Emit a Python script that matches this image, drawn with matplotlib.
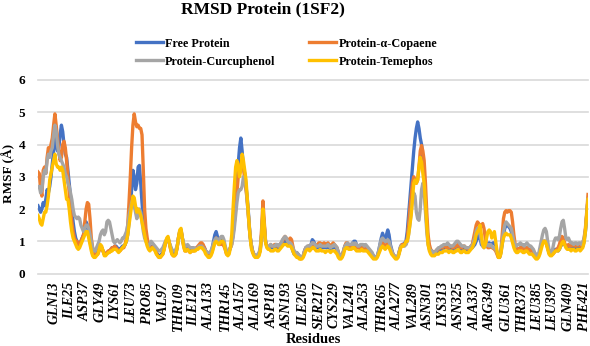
#%% imports
import numpy as np
import matplotlib
matplotlib.use('Agg')
import matplotlib.pyplot as plt

#%% data (RMSF per residue, residues 1..424)
free_protein = [
    2.1, 2.0, 1.9, 2.0, 2.2, 2.1, 2.3, 2.6, 2.5, 2.7,
    3.0, 3.4, 3.8, 4.2, 4.0, 3.8, 3.9, 4.3, 4.6, 4.4,
    4.0, 3.7, 3.6, 3.2, 2.8, 2.4, 2.0, 1.6, 1.3, 1.1,
    1.0, 0.9, 0.9, 1.0, 1.1, 1.2, 1.4, 1.6, 1.5, 1.3,
    1.0, 0.8, 0.6, 0.55, 0.55, 0.6, 0.7, 0.8, 0.85, 0.8,
    0.7, 0.6, 0.6, 0.65, 0.65, 0.7, 0.75, 0.8, 0.8, 0.85,
    0.85, 0.8, 0.75, 0.75, 0.8, 0.85, 0.85, 0.9, 1.0, 1.2,
    1.6, 2.0, 2.6, 3.2, 3.0, 2.6, 2.8, 3.3, 3.35, 2.8,
    2.2, 1.7, 1.4, 1.1, 0.95, 0.85, 0.8, 0.8, 0.85, 0.85,
    0.75, 0.65, 0.6, 0.55, 0.55, 0.6, 0.65, 0.8, 0.95, 1.05,
    1.1, 0.95, 0.8, 0.65, 0.6, 0.6, 0.65, 0.8, 1.1, 1.3,
    1.35, 1.1, 0.9, 0.8, 0.8, 0.85, 0.8, 0.75, 0.8, 0.8,
    0.75, 0.75, 0.8, 0.8, 0.85, 0.85, 0.9, 0.85, 0.8, 0.7,
    0.65, 0.6, 0.6, 0.65, 0.8, 1.0, 1.2, 1.3, 1.15, 1.0,
    1.05, 1.1, 1.0, 0.95, 0.8, 0.65, 0.6, 0.7, 0.8, 1.0,
    1.2, 1.6, 2.2, 2.8, 3.4, 3.9, 4.2, 3.8, 3.3, 3.1,
    2.7, 2.3, 1.8, 1.2, 0.9, 0.7, 0.6, 0.55, 0.5, 0.55,
    0.6, 0.75, 1.2, 1.9, 1.5, 1.0, 0.85, 0.8, 0.8, 0.85,
    0.8, 0.8, 0.85, 0.85, 0.8, 0.8, 0.85, 0.9, 0.95, 0.95,
    1.0, 0.95, 0.9, 0.95, 0.9, 0.85, 0.7, 0.6, 0.6, 0.65,
    0.6, 0.55, 0.5, 0.5, 0.55, 0.7, 0.8, 0.8, 0.85, 0.8,
    0.9, 1.05, 1.0, 0.9, 0.85, 0.8, 0.8, 0.85, 0.8, 0.8,
    0.85, 0.8, 0.8, 0.85, 0.8, 0.75, 0.8, 0.8, 0.85, 0.8,
    0.75, 0.65, 0.55, 0.5, 0.55, 0.7, 0.85, 0.9, 0.9, 0.85,
    0.85, 0.9, 0.95, 1.0, 1.0, 0.9, 0.85, 0.8, 0.8, 0.85,
    0.8, 0.8, 0.85, 0.8, 0.75, 0.7, 0.65, 0.6, 0.55, 0.5,
    0.5, 0.55, 0.7, 0.9, 1.1, 1.25, 1.1, 1.0, 1.2, 1.35,
    1.2, 0.9, 0.75, 0.6, 0.55, 0.5, 0.5, 0.55, 0.7, 0.85,
    0.9, 0.9, 0.95, 1.0, 1.3, 1.8, 2.3, 2.8, 3.3, 3.8,
    4.2, 4.5, 4.7, 4.5, 4.2, 4.0, 3.5, 3.0, 2.2, 1.5,
    1.0, 0.8, 0.7, 0.65, 0.6, 0.6, 0.65, 0.7, 0.7, 0.75,
    0.8, 0.75, 0.8, 0.8, 0.85, 0.8, 0.75, 0.8, 0.8, 0.75,
    0.75, 0.8, 0.85, 0.85, 0.8, 0.75, 0.75, 0.8, 0.8, 0.75,
    0.7, 0.7, 0.75, 0.8, 0.8, 0.85, 0.9, 1.0, 1.1, 1.2,
    1.1, 0.9, 0.85, 0.9, 0.95, 0.9, 0.9, 0.95, 0.9, 0.9,
    0.95, 0.95, 0.85, 0.65, 0.55, 0.5, 0.65, 0.9, 1.2, 1.4,
    1.5, 1.5, 1.45, 1.4, 1.3, 1.1, 0.9, 0.8, 0.75, 0.7,
    0.75, 0.8, 0.8, 0.75, 0.75, 0.8, 0.8, 0.75, 0.7, 0.7,
    0.75, 0.7, 0.6, 0.55, 0.5, 0.55, 0.7, 0.85, 0.95, 1.0,
    1.0, 0.95, 0.8, 0.65, 0.6, 0.6, 0.65, 0.7, 0.75, 0.75,
    0.7, 0.75, 0.85, 0.9, 0.95, 0.9, 0.85, 0.8, 0.8, 0.75,
    0.75, 0.8, 0.8, 0.75, 0.75, 0.8, 0.8, 0.75, 0.8, 0.85,
    1.0, 1.3, 1.8, 2.3]

copaene = [
    3.15, 3.1, 2.6, 2.4, 3.2, 3.3, 3.1, 3.6, 3.9, 3.8,
    4.0, 4.2, 4.6, 4.95, 4.6, 4.2, 3.8, 3.5, 3.6, 4.0,
    4.1, 3.9, 3.5, 3.0, 2.5, 2.0, 1.6, 1.3, 1.1, 1.0,
    1.0, 0.9, 0.9, 1.0, 1.1, 1.2, 1.6, 2.0, 2.2, 2.15,
    1.7, 1.1, 0.8, 0.6, 0.55, 0.6, 0.6, 0.7, 0.8, 0.8,
    0.7, 0.6, 0.6, 0.65, 0.7, 0.7, 0.75, 0.8, 0.8, 0.85,
    0.8, 0.75, 0.7, 0.7, 0.75, 0.8, 0.8, 0.9, 1.1, 1.5,
    2.2, 3.0, 3.9, 4.6, 4.95, 4.7, 4.55, 4.6, 4.5, 4.5,
    4.3, 3.2, 2.0, 1.4, 1.1, 0.9, 0.85, 0.8, 0.8, 0.85,
    0.75, 0.65, 0.55, 0.5, 0.5, 0.55, 0.6, 0.75, 0.95, 1.05,
    1.1, 0.95, 0.75, 0.6, 0.55, 0.55, 0.6, 0.8, 1.1, 1.3,
    1.35, 1.1, 0.85, 0.7, 0.7, 0.75, 0.7, 0.65, 0.7, 0.7,
    0.7, 0.75, 0.8, 0.85, 0.9, 0.95, 0.95, 0.9, 0.8, 0.7,
    0.65, 0.6, 0.6, 0.6, 0.7, 0.85, 1.0, 1.1, 1.0, 0.9,
    0.9, 0.95, 0.9, 0.85, 0.75, 0.6, 0.6, 0.7, 0.8, 0.9,
    1.2, 1.6, 2.0, 2.5, 3.0, 3.3, 3.4, 3.5, 3.3, 2.9,
    2.6, 2.2, 1.7, 1.2, 0.9, 0.7, 0.6, 0.55, 0.5, 0.55,
    0.6, 0.8, 1.4, 2.25, 1.6, 1.0, 0.85, 0.8, 0.85, 0.9,
    0.85, 0.85, 0.9, 0.9, 0.85, 0.85, 0.9, 0.95, 1.0, 1.1,
    1.15, 1.1, 1.0, 1.05, 1.1, 1.05, 0.85, 0.65, 0.6, 0.6,
    0.55, 0.5, 0.45, 0.5, 0.55, 0.7, 0.8, 0.8, 0.85, 0.8,
    0.85, 0.95, 0.9, 0.85, 0.85, 0.9, 0.95, 0.95, 0.9, 0.9,
    0.95, 0.9, 0.9, 0.95, 0.9, 0.85, 0.9, 0.95, 0.9, 0.85,
    0.8, 0.65, 0.55, 0.5, 0.55, 0.7, 0.85, 0.95, 0.95, 0.9,
    0.85, 0.85, 0.9, 0.85, 0.85, 0.8, 0.8, 0.8, 0.75, 0.8,
    0.8, 0.75, 0.8, 0.75, 0.7, 0.7, 0.65, 0.6, 0.55, 0.5,
    0.5, 0.55, 0.65, 0.8, 0.9, 0.95, 0.9, 0.85, 0.9, 0.95,
    0.9, 0.8, 0.7, 0.6, 0.55, 0.5, 0.5, 0.55, 0.7, 0.85,
    0.9, 0.9, 0.9, 0.9, 1.1, 1.5, 2.0, 2.4, 2.8, 3.0,
    2.9, 2.8, 2.9, 3.3, 3.8, 3.97, 3.8, 3.5, 2.8, 1.9,
    1.2, 0.9, 0.75, 0.7, 0.65, 0.65, 0.7, 0.75, 0.75, 0.8,
    0.8, 0.8, 0.85, 0.85, 0.8, 0.8, 0.8, 0.85, 0.85, 0.8,
    0.8, 0.85, 0.85, 0.9, 0.85, 0.8, 0.8, 0.85, 0.85, 0.8,
    0.8, 0.75, 0.8, 0.85, 0.9, 1.1, 1.3, 1.5, 1.6, 1.55,
    1.4, 1.5, 1.55, 1.4, 1.1, 0.9, 0.8, 0.8, 0.85, 0.8,
    0.8, 0.75, 0.7, 0.6, 0.5, 0.5, 0.7, 1.2, 1.7, 1.9,
    1.95, 1.9, 1.95, 1.95, 1.9, 1.6, 1.2, 0.9, 0.8, 0.75,
    0.75, 0.8, 0.8, 0.75, 0.75, 0.8, 0.8, 0.75, 0.75, 0.7,
    0.7, 0.7, 0.6, 0.55, 0.5, 0.55, 0.7, 0.85, 0.95, 1.0,
    1.0, 0.95, 0.8, 0.65, 0.6, 0.6, 0.6, 0.65, 0.7, 0.75,
    0.8, 0.9, 1.05, 1.15, 1.1, 0.95, 0.85, 0.85, 0.9, 0.85,
    0.85, 0.9, 0.9, 0.85, 0.85, 0.9, 0.9, 0.85, 0.9, 0.95,
    1.1, 1.4, 1.9, 2.45]

curcuphenol = [
    2.7, 2.7, 2.5, 2.6, 3.0, 3.2, 3.1, 3.5, 3.7, 3.6,
    3.8, 3.9, 4.3, 4.6, 4.4, 4.0, 3.7, 3.6, 3.5, 3.4,
    3.3, 3.1, 3.0, 2.8, 2.7, 2.5, 2.3, 2.0, 1.8, 1.75,
    1.7, 1.75, 1.7, 1.5, 1.4, 1.3, 1.4, 1.5, 1.5, 1.4,
    1.2, 1.0, 0.8, 0.7, 0.7, 0.8, 0.9, 1.0, 1.2, 1.3,
    1.35, 1.2, 1.3, 1.6, 1.65, 1.6, 1.4, 1.2, 1.0, 0.95,
    1.0, 1.05, 1.0, 0.95, 1.0, 1.1, 1.1, 1.2, 1.3, 1.5,
    1.8, 2.0, 2.2, 2.3, 2.1, 1.9, 1.7, 1.8, 2.0, 1.9,
    1.6, 1.3, 1.1, 1.0, 0.9, 0.85, 0.9, 1.0, 0.95, 0.9,
    0.85, 0.8, 0.75, 0.7, 0.7, 0.75, 0.8, 0.9, 1.0, 1.05,
    1.05, 0.95, 0.85, 0.75, 0.7, 0.7, 0.75, 0.85, 1.05, 1.25,
    1.3, 1.1, 0.95, 0.85, 0.85, 0.9, 0.85, 0.8, 0.8, 0.8,
    0.8, 0.75, 0.75, 0.8, 0.85, 0.85, 0.85, 0.8, 0.75, 0.7,
    0.65, 0.65, 0.65, 0.7, 0.8, 0.95, 1.05, 1.1, 1.05, 1.0,
    1.1, 1.15, 1.15, 1.05, 0.85, 0.7, 0.65, 0.7, 0.8, 0.9,
    1.1, 1.4, 1.8, 2.2, 2.5, 2.6, 2.6, 2.7, 3.0, 2.9,
    2.7, 2.2, 1.7, 1.2, 0.9, 0.7, 0.6, 0.55, 0.55, 0.6,
    0.65, 0.8, 1.2, 1.8, 1.4, 1.0, 0.85, 0.8, 0.85, 0.9,
    0.85, 0.85, 0.85, 0.9, 0.9, 0.85, 0.9, 0.95, 1.05, 1.1,
    1.15, 1.1, 1.0, 0.95, 0.95, 0.9, 0.8, 0.7, 0.65, 0.65,
    0.6, 0.55, 0.5, 0.5, 0.55, 0.7, 0.8, 0.85, 0.85, 0.85,
    0.9, 0.95, 0.95, 0.9, 0.85, 0.85, 0.85, 0.9, 0.85, 0.85,
    0.85, 0.85, 0.85, 0.9, 0.85, 0.8, 0.85, 0.85, 0.9, 0.85,
    0.8, 0.65, 0.55, 0.5, 0.55, 0.7, 0.85, 0.9, 0.95, 0.9,
    0.9, 0.9, 0.95, 0.9, 0.95, 0.9, 0.85, 0.85, 0.9, 0.9,
    0.9, 0.85, 0.9, 0.85, 0.8, 0.75, 0.7, 0.65, 0.55, 0.5,
    0.5, 0.55, 0.7, 0.9, 1.05, 1.1, 1.05, 1.0, 1.0, 1.05,
    1.0, 0.85, 0.7, 0.6, 0.55, 0.5, 0.5, 0.55, 0.7, 0.85,
    0.85, 0.85, 0.85, 0.9, 1.0, 1.2, 1.5, 1.9, 2.3, 2.5,
    2.4, 1.9, 1.7, 1.65, 2.0, 2.6, 2.8, 2.5, 1.9, 1.3,
    0.9, 0.75, 0.7, 0.7, 0.65, 0.65, 0.7, 0.75, 0.8, 0.8,
    0.85, 0.85, 0.9, 0.9, 0.9, 0.95, 0.9, 0.85, 0.85, 0.85,
    0.9, 0.95, 1.0, 1.0, 0.95, 0.9, 0.85, 0.85, 0.85, 0.8,
    0.8, 0.8, 0.8, 0.85, 0.85, 1.0, 1.1, 1.3, 1.4, 1.3,
    1.2, 1.0, 0.85, 0.8, 0.85, 0.9, 0.9, 0.85, 0.9, 0.85,
    0.8, 0.8, 0.75, 0.65, 0.6, 0.55, 0.7, 1.0, 1.3, 1.5,
    1.6, 1.55, 1.5, 1.45, 1.4, 1.2, 1.0, 0.85, 0.85, 0.9,
    0.9, 0.95, 0.9, 0.9, 0.85, 0.9, 0.95, 0.9, 0.85, 0.85,
    0.8, 0.75, 0.65, 0.6, 0.55, 0.6, 0.8, 1.0, 1.2, 1.35,
    1.4, 1.3, 1.0, 0.75, 0.65, 0.65, 0.8, 1.0, 1.1, 1.1,
    1.05, 1.15, 1.4, 1.6, 1.65, 1.4, 1.1, 1.05, 1.1, 1.0,
    0.95, 0.95, 0.9, 0.95, 0.95, 0.9, 0.95, 0.95, 0.9, 0.95,
    1.1, 1.3, 1.8, 2.3]

temephos = [
    1.8, 1.7, 1.55, 1.5, 1.7, 1.9, 1.9, 2.1, 2.4, 2.9,
    3.1, 3.3, 3.5, 3.7, 3.4, 3.3, 3.3, 3.2, 3.3, 3.2,
    2.9, 2.6, 2.3, 2.3, 2.0, 1.6, 1.3, 1.1, 1.0, 0.9,
    0.8, 0.75, 0.8, 0.9, 1.0, 1.1, 1.2, 1.3, 1.3, 1.1,
    0.9, 0.7, 0.55, 0.5, 0.5, 0.55, 0.6, 0.75, 0.9, 0.85,
    0.7, 0.55, 0.55, 0.6, 0.65, 0.65, 0.7, 0.7, 0.75, 0.75,
    0.75, 0.7, 0.65, 0.7, 0.75, 0.8, 0.85, 0.9, 1.0, 1.2,
    1.5, 1.8, 2.1, 2.4, 2.35, 2.1, 1.9, 2.0, 1.9, 1.8,
    1.6, 1.4, 1.2, 1.0, 0.85, 0.75, 0.7, 0.75, 0.8, 0.75,
    0.7, 0.6, 0.55, 0.5, 0.5, 0.55, 0.6, 0.75, 0.95, 1.1,
    1.15, 0.95, 0.75, 0.6, 0.55, 0.55, 0.6, 0.8, 1.1, 1.35,
    1.4, 1.1, 0.85, 0.7, 0.7, 0.75, 0.7, 0.65, 0.7, 0.7,
    0.7, 0.7, 0.75, 0.75, 0.8, 0.8, 0.8, 0.75, 0.7, 0.6,
    0.55, 0.5, 0.5, 0.55, 0.65, 0.8, 0.95, 1.0, 0.95, 0.9,
    0.95, 1.0, 1.0, 0.95, 0.75, 0.6, 0.55, 0.6, 0.8, 1.2,
    2.0, 2.7, 3.3, 3.5, 3.3, 3.0, 3.2, 3.7, 3.5, 3.2,
    2.9, 2.3, 1.7, 1.2, 0.8, 0.65, 0.55, 0.5, 0.5, 0.5,
    0.55, 0.7, 1.2, 2.0, 1.5, 0.95, 0.8, 0.75, 0.75, 0.7,
    0.7, 0.7, 0.75, 0.75, 0.7, 0.7, 0.75, 0.8, 0.85, 0.9,
    0.9, 0.9, 0.85, 0.85, 0.85, 0.8, 0.7, 0.6, 0.55, 0.5,
    0.5, 0.45, 0.45, 0.45, 0.5, 0.6, 0.7, 0.75, 0.75, 0.7,
    0.75, 0.8, 0.8, 0.75, 0.7, 0.7, 0.7, 0.75, 0.7, 0.7,
    0.7, 0.65, 0.7, 0.7, 0.7, 0.65, 0.7, 0.7, 0.7, 0.65,
    0.6, 0.5, 0.45, 0.45, 0.5, 0.6, 0.75, 0.8, 0.8, 0.75,
    0.75, 0.75, 0.8, 0.8, 0.75, 0.7, 0.7, 0.7, 0.7, 0.75,
    0.7, 0.7, 0.7, 0.7, 0.65, 0.6, 0.55, 0.5, 0.45, 0.45,
    0.45, 0.5, 0.6, 0.7, 0.8, 0.85, 0.8, 0.75, 0.8, 0.85,
    0.8, 0.7, 0.6, 0.55, 0.5, 0.45, 0.45, 0.5, 0.65, 0.8,
    0.85, 0.85, 0.9, 1.0, 1.0, 1.2, 1.5, 1.8, 2.3, 2.8,
    2.9, 2.8, 2.9, 3.3, 3.6, 3.45, 3.1, 2.8, 2.2, 1.5,
    0.9, 0.7, 0.6, 0.55, 0.55, 0.55, 0.6, 0.6, 0.6, 0.65,
    0.65, 0.65, 0.7, 0.7, 0.7, 0.7, 0.65, 0.7, 0.7, 0.65,
    0.65, 0.7, 0.7, 0.75, 0.7, 0.65, 0.65, 0.7, 0.7, 0.65,
    0.65, 0.65, 0.7, 0.75, 0.8, 0.9, 1.0, 1.2, 1.3, 1.35,
    1.5, 1.2, 0.9, 0.8, 0.9, 1.1, 1.3, 1.35, 1.3, 1.1,
    1.2, 1.3, 1.0, 0.7, 0.5, 0.5, 0.6, 0.9, 1.1, 1.2,
    1.25, 1.2, 1.2, 1.2, 1.1, 0.95, 0.8, 0.7, 0.65, 0.65,
    0.7, 0.7, 0.7, 0.65, 0.65, 0.7, 0.7, 0.65, 0.6, 0.6,
    0.6, 0.55, 0.5, 0.45, 0.45, 0.5, 0.6, 0.75, 0.9, 1.0,
    1.0, 0.9, 0.75, 0.6, 0.55, 0.55, 0.6, 0.65, 0.7, 0.7,
    0.7, 0.75, 0.85, 0.95, 1.0, 0.9, 0.8, 0.75, 0.75, 0.75,
    0.7, 0.75, 0.75, 0.7, 0.7, 0.75, 0.75, 0.7, 0.75, 0.8,
    0.95, 1.3, 1.8, 2.3]

tick_residues = list(range(13, 422, 12))
tick_labels = ['GLN13', 'ILE25', 'ASP37', 'GLY49', 'LYS61', 'LEU73', 'PRO85',
               'VAL97', 'THR109', 'ILE121', 'ALA133', 'THR145', 'ALA157',
               'ALA169', 'ASP181', 'ASN193', 'ILE205', 'SER217', 'CYS229',
               'VAL241', 'ALA253', 'THR265', 'ALA277', 'VAL289', 'ASN301',
               'LYS313', 'ASN325', 'ALA337', 'ARG349', 'GLU361', 'THR373',
               'LEU385', 'LEU397', 'GLN409', 'PHE421']

series_names = ['Free Protein', 'Protein-\u03b1-Copaene',
                'Protein-Curcuphenol', 'Protein-Temephos']
series_colors = ['#4472C4', '#ED7D31', '#A5A5A5', '#FFC000']

for s in [free_protein, copaene, curcuphenol, temephos]:
    assert len(s) == 424, len(s)
residues = np.arange(1, 425)

#%% plot
plt.rcParams['font.family'] = ['Liberation Serif', 'DejaVu Serif']
plt.rcParams['font.weight'] = 'bold'

fig = plt.figure(figsize=(5.9, 3.46), dpi=100)
ax = fig.add_axes([0.0644, 0.2095, 0.9322, 0.5593])

lines = []
for vals, name, col in zip([free_protein, copaene, curcuphenol, temephos],
                           series_names, series_colors):
    l, = ax.plot(residues, vals, color=col, lw=2.4, label=name,
                 solid_joinstyle='round')
    lines.append(l)

ax.set_xlim(1, 424)
ax.set_ylim(0, 6)
ax.set_yticks(range(0, 7))
ax.yaxis.grid(True, color='#d9d9d9', lw=1.2, clip_on=False)
ax.set_axisbelow(True)
for sp in ax.spines.values():
    sp.set_visible(False)

ax.set_xticks(tick_residues)
ax.set_xticklabels(tick_labels, rotation=90, fontstyle='italic',
                   fontweight='bold', fontsize=10)
ax.tick_params(axis='x', length=0, pad=6)
ax.tick_params(axis='y', length=0, pad=9, labelsize=9.5)
for t in ax.get_yticklabels():
    t.set_fontweight('bold')

ax.set_xlabel('Residues', fontsize=10.5, fontweight='bold', labelpad=1)
fig.text(0.015, 0.5, 'RMSF (\u00c5)', rotation=90, fontsize=9.5,
         fontweight='bold', ha='center', va='center')
fig.text(0.446, 0.972, 'RMSD Protein (1SF2)', fontsize=12.5,
         fontweight='bold', ha='center', va='center')

# legend filled row-wise
order = [0, 2, 1, 3]
fig.legend([lines[i] for i in order], [series_names[i] for i in order],
           ncol=2, loc='center', bbox_to_anchor=(0.486, 0.848),
           frameon=False, fontsize=8.7, handlelength=2.2, handletextpad=0.2,
           columnspacing=2.8, labelspacing=0.5)

fig.savefig('out.png', dpi=100)
